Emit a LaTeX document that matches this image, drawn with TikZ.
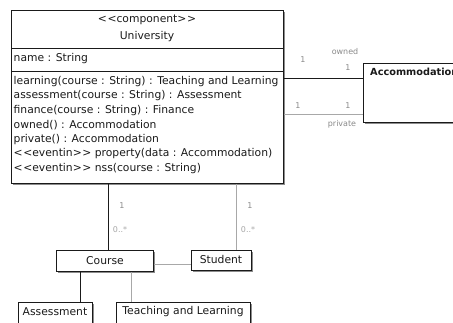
\documentclass[tikz,border=0pt]{standalone}
\usepackage{fontspec}
\setmainfont{DejaVu Sans}
\usetikzlibrary{shadows}
\definecolor{dark}{HTML}{1A1A1A}
\definecolor{lgray}{HTML}{A8A8A8}
\definecolor{mgray}{HTML}{8A8A8A}
\newcommand{\ltt}{{<}\kern0.6pt{<}}
\newcommand{\gtt}{{>}\kern0.6pt{>}}
\begin{document}
\begin{tikzpicture}[x=1bp,y=-1bp,
  box/.style={draw=dark, line width=0.8bp, fill=white, rectangle, inner sep=0pt,
    drop shadow={shadow xshift=1.2bp, shadow yshift=-1.2bp, fill=black!45, opacity=1}},
  txt/.style={font=\fontsize{10.8}{12}\selectfont, inner sep=0pt, text=dark},
  ltxt/.style={txt, anchor=west},
  mult/.style={font=\fontsize{8}{9}\selectfont, inner sep=0pt, text=mgray},
  multl/.style={font=\fontsize{8}{9}\selectfont, inner sep=0pt, text=lgray},
  dline/.style={draw=dark, line width=0.8bp},
  gline/.style={draw=lgray, line width=0.9bp}]
\useasboundingbox (0,0) rectangle (453,322);
\clip (0,0) rectangle (453,322);
\fill[white] (0,0) rectangle (453,322);

% University
\node[box, anchor=north west, minimum width=272bp, minimum height=173bp] (uni) at (11,10) {};
\node[txt] (stereo) at (147,20) {\ltt component\gtt};
\node[txt] (uname) at (147,37) {University};
\coordinate (s1) at (0,48);
\coordinate (s2) at (0,71.5);
\draw[dline] (uni.west |- s1) -- (uni.east |- s1);
\draw[dline] (uni.west |- s2) -- (uni.east |- s2);
\node[ltxt] (attr) at (13.5,58.5) {name : String};
\node[ltxt] (m1) at (13.5,81.5) {learning(course : String) : Teaching and Learning};
\node[ltxt] (m2) at (13.5,96) {assessment(course : String) : Assessment};
\node[ltxt] (m3) at (13.5,110.5) {finance(course : String) : Finance};
\node[ltxt] (m4) at (13.5,125) {owned() : Accommodation};
\node[ltxt] (m5) at (13.5,139.5) {private() : Accommodation};
\node[ltxt] (m6) at (13.5,154) {\ltt eventin\gtt{} property(data : Accommodation)};
\node[ltxt] (m7) at (13.5,168.5) {\ltt eventin\gtt{} nss(course : String)};

% Accommodation
\node[box, anchor=north west, minimum width=110bp, minimum height=59bp] (acc) at (363,63) {};
\node[txt, anchor=west, font=\fontsize{9.8}{11}\selectfont\bfseries] (accname) at (370,72) {Accommodation};

% Course, Student
\node[box, anchor=north west, minimum width=97bp, minimum height=21bp] (course) at (56,250) {};
\node[txt] (coursename) at (105,260.5) {Course};
\node[box, anchor=north west, minimum width=60bp, minimum height=20bp] (student) at (191,250) {};
\node[txt] (studentname) at (221,259.5) {Student};

% Assessment, Teaching and Learning
\node[box, anchor=north west, minimum width=74bp, minimum height=40bp] (assess) at (18,302) {};
\node[txt] (assessname) at (55,312) {Assessment};
\node[box, anchor=north west, minimum width=134bp, minimum height=40bp] (tl) at (116,302) {};
\node[txt] (tlname) at (183,312) {Teaching and Learning};

% connectors
\coordinate (yowned) at (0,78);
\coordinate (ypriv) at (0,114);
\draw[dline] (uni.east |- yowned) -- (acc.west |- yowned);
\draw[gline] (uni.east |- ypriv) -- (acc.west |- ypriv);
\node[mult] (o1) at (303,60) {1};
\node[mult] (o2) at (348,68) {1};
\node[mult] (oname) at (345,52) {owned};
\node[mult] (p1) at (298,106) {1};
\node[mult] (p2) at (348,106) {1};
\node[mult] (pname) at (342,124.5) {private};

\coordinate (xc) at (108,0);
\coordinate (xs) at (236,0);
\draw[dline] (uni.south -| xc) -- (course.north -| xc);
\draw[gline] (uni.south -| xs) -- (student.north -| xs);
\node[mult] (c1) at (122,206) {1};
\node[multl] (c2) at (120,230) {0..*};
\node[mult] (st1) at (250,206) {1};
\node[multl] (st2) at (248,230) {0..*};

\coordinate (ycs) at (0,264);
\draw[gline] (course.east |- ycs) -- (student.west |- ycs);

\coordinate (xa) at (80,0);
\coordinate (xt) at (131,0);
\draw[dline] (course.south -| xa) -- (assess.north -| xa);
\draw[gline] (course.south -| xt) -- (tl.north -| xt);
\end{tikzpicture}
\end{document}
